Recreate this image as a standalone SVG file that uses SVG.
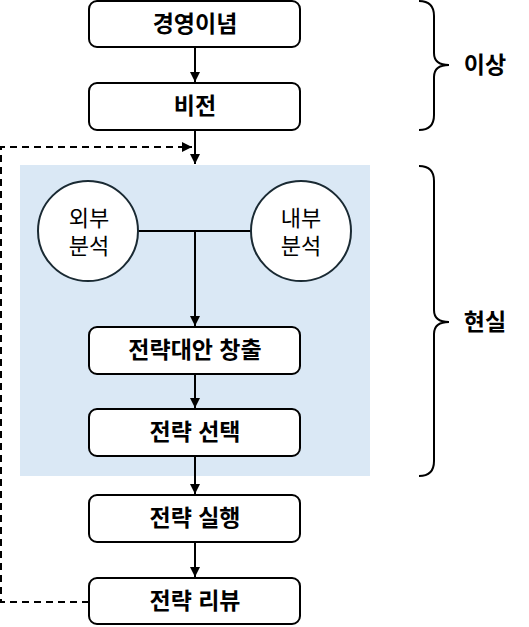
<svg xmlns="http://www.w3.org/2000/svg" width="529" height="627" viewBox="0 0 529 627">
<style>
.box{fill:#fff;stroke:#000;stroke-width:2}
.circ{fill:#fff;stroke:#1a2a33;stroke-width:2}
.bt{font-family:"Liberation Sans","Noto Sans CJK KR",sans-serif;font-size:23px;font-weight:bold;text-anchor:middle;fill:#000}
.ct{font-family:"Liberation Sans","Noto Sans CJK KR",sans-serif;font-size:22px;text-anchor:middle;fill:#000}
.ln{fill:none;stroke:#000;stroke-width:2}
.dash{fill:none;stroke:#000;stroke-width:2;stroke-dasharray:7,5}
.brace{fill:none;stroke:#000;stroke-width:2}
</style>
<defs>
<marker id="ah" viewBox="0 0 10 10" refX="10" refY="5" markerWidth="5" markerHeight="5" orient="auto" markerUnits="strokeWidth">
<path d="M0,0 L10,5 L0,10 z" fill="#000"/>
</marker>
</defs>
<rect x="20" y="165" width="350" height="311" fill="#dae8f5"/>
<g id="connectors">
<line class="ln" x1="195" y1="47" x2="195" y2="82" marker-end="url(#ah)"/>
<line class="ln" x1="195" y1="130" x2="195" y2="164" marker-end="url(#ah)"/>
<line class="ln" x1="138" y1="231" x2="251" y2="231"/>
<line class="ln" x1="195" y1="231" x2="195" y2="326" marker-end="url(#ah)"/>
<line class="ln" x1="195" y1="374" x2="195" y2="408" marker-end="url(#ah)"/>
<line class="ln" x1="195" y1="456" x2="195" y2="494" marker-end="url(#ah)"/>
<line class="ln" x1="195" y1="542" x2="195" y2="577" marker-end="url(#ah)"/>
<path class="dash" d="M89,602 H1 V147 H192" marker-end="url(#ah)"/>
</g>
<g id="n1"><rect class="box" x="89" y="1" width="211" height="46" rx="8"/><text class="bt" x="195" y="32">경영이념</text></g>
<g id="n2"><rect class="box" x="89" y="83" width="211" height="47" rx="8"/><text class="bt" x="195" y="114">비전</text></g>
<g id="c1"><circle class="circ" cx="88" cy="231" r="50"/><text class="ct" x="89" y="226">외부</text><text class="ct" x="89" y="254">분석</text></g>
<g id="c2"><circle class="circ" cx="301" cy="231" r="50"/><text class="ct" x="301" y="226">내부</text><text class="ct" x="301" y="254">분석</text></g>
<g id="n3"><rect class="box" x="89" y="327" width="211" height="47" rx="8"/><text class="bt" x="195" y="358">전략대안 창출</text></g>
<g id="n4"><rect class="box" x="89" y="409" width="211" height="47" rx="8"/><text class="bt" x="195" y="440">전략 선택</text></g>
<g id="n5"><rect class="box" x="89" y="495" width="211" height="47" rx="8"/><text class="bt" x="195" y="526">전략 실행</text></g>
<g id="n6"><rect class="box" x="89" y="578" width="211" height="46" rx="8"/><text class="bt" x="195" y="609">전략 리뷰</text></g>
<g id="b1"><path class="brace" d="M419,1 Q434,1 434,16 V53 Q434,65 449,65 Q434,65 434,77 V115 Q434,130 419,130"/><text class="bt" x="485" y="73">이상</text></g>
<g id="b2"><path class="brace" d="M419,166 Q434,166 434,181 V310 Q434,322 449,322 Q434,322 434,334 V461 Q434,476 419,476"/><text class="bt" x="485" y="330">현실</text></g>
</svg>
